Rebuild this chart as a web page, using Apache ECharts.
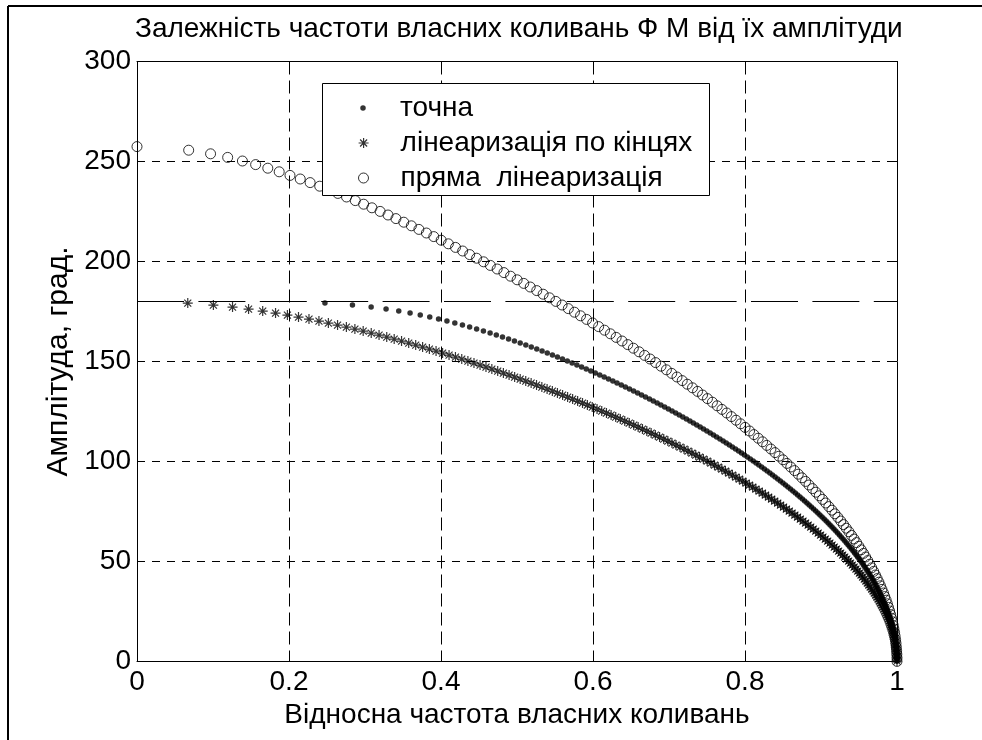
<!DOCTYPE html>
<html>
<head>
<meta charset="utf-8">
<script src="https://cdn.jsdelivr.net/npm/echarts@6/dist/echarts.min.js"></script>
<style>
  html, body { margin: 0; padding: 0; background: #fff; }
  #chart { width: 982px; height: 740px; }
</style>
</head>
<body>
<div id="chart"></div>
<script>
// Amplitude (degrees) shared by the exact solution and the end-point linearization
const ampExact = [
  179.2,178.2,177.2,176.2,175.2,174.2,173.2,172.2,171.2,170.2,
  169.2,168.2,167.2,166.2,165.2,164.2,163.2,162.2,161.2,160.2,
  159.2,158.2,157.2,156.2,155.2,154.2,153.2,152.2,151.2,150.2,
  149.2,148.2,147.2,146.2,145.2,144.2,143.2,142.2,141.2,140.2,
  139.2,138.2,137.2,136.2,135.2,134.2,133.2,132.2,131.2,130.2,
  129.2,128.2,127.2,126.2,125.2,124.2,123.2,122.2,121.2,120.2,
  119.2,118.2,117.2,116.2,115.2,114.2,113.2,112.2,111.2,110.2,
  109.2,108.2,107.2,106.2,105.2,104.2,103.2,102.2,101.2,100.2,
  99.2,98.2,97.2,96.2,95.2,94.2,93.2,92.2,91.2,90.2,
  89.2,88.2,87.2,86.2,85.2,84.2,83.2,82.2,81.2,80.2,
  79.2,78.2,77.2,76.2,75.2,74.2,73.2,72.2,71.2,70.2,
  69.2,68.2,67.2,66.2,65.2,64.2,63.2,62.2,61.2,60.2,
  59.2,58.2,57.2,56.2,55.2,54.2,53.2,52.2,51.2,50.2,
  49.2,48.2,47.2,46.2,45.2,44.2,43.2,42.2,41.2,40.2,
  39.2,38.2,37.2,36.2,35.2,34.2,33.2,32.2,31.2,30.2,
  29.2,28.2,27.2,26.2,25.2,24.2,23.2,22.2,21.2,20.2,
  19.2,18.2,17.2,16.2,15.2,14.2,13.2,12.2,11.2,10.2,
  9.2,8.2,7.2,6.2,5.2,4.2,3.2,2.2,1.2,0.2
];

// Relative frequency, exact solution ("точна")
const freqExact = [
  .2473,.2835,.3081,.3277,.3444,.3593,.3727,.3852,.3968,.4078,
  .4182,.4282,.4377,.4469,.4558,.4646,.4728,.4809,.4889,.4966,
  .5042,.5116,.5188,.5260,.5330,.5398,.5466,.5532,.5598,.5662,
  .5725,.5788,.5850,.5911,.5971,.6030,.6089,.6147,.6204,.6261,
  .6316,.6372,.6426,.6480,.6534,.6587,.6639,.6691,.6743,.6793,
  .6844,.6893,.6943,.6992,.7040,.7088,.7135,.7182,.7229,.7275,
  .7320,.7365,.7410,.7454,.7498,.7542,.7585,.7627,.7670,.7712,
  .7753,.7794,.7834,.7875,.7915,.7954,.7993,.8031,.8070,.8108,
  .8145,.8182,.8219,.8255,.8291,.8327,.8362,.8396,.8431,.8465,
  .8499,.8532,.8565,.8598,.8630,.8662,.8693,.8724,.8755,.8785,
  .8815,.8844,.8873,.8902,.8931,.8959,.8986,.9014,.9041,.9068,
  .9094,.9119,.9145,.9170,.9195,.9219,.9243,.9266,.9290,.9313,
  .9335,.9357,.9379,.9401,.9422,.9442,.9462,.9482,.9502,.9522,
  .9540,.9558,.9576,.9594,.9612,.9628,.9645,.9661,.9677,.9693,
  .9707,.9722,.9736,.9750,.9764,.9777,.9789,.9802,.9814,.9826,
  .9837,.9848,.9858,.9869,.9879,.9888,.9897,.9905,.9914,.9922,
  .9929,.9936,.9943,.9949,.9956,.9961,.9966,.9970,.9975,.9980,
  .9984,.9987,.9990,.9993,.9995,.9997,.9998,.9999,1,1
];

// Relative frequency, linearization through the end points ("лінеаризація по кінцях")
const freqEnds = [
  .0668,.1005,.1257,.1468,.1654,.1823,.1979,.2125,.2263,.2394,
  .2518,.2639,.2755,.2867,.2976,.3082,.3185,.3286,.3384,.3481,
  .3575,.3667,.3758,.3847,.3935,.4021,.4106,.4190,.4273,.4354,
  .4434,.4514,.4592,.4669,.4746,.4821,.4896,.4969,.5042,.5115,
  .5186,.5257,.5327,.5396,.5465,.5532,.5600,.5666,.5732,.5798,
  .5862,.5926,.5990,.6053,.6115,.6177,.6238,.6299,.6359,.6418,
  .6477,.6536,.6594,.6651,.6708,.6765,.6820,.6876,.6931,.6985,
  .7039,.7092,.7145,.7198,.7250,.7301,.7352,.7402,.7452,.7502,
  .7551,.7599,.7647,.7695,.7742,.7788,.7834,.7880,.7925,.7970,
  .8014,.8057,.8101,.8143,.8186,.8228,.8269,.8310,.8350,.8390,
  .8430,.8468,.8507,.8545,.8583,.8619,.8656,.8692,.8728,.8763,
  .8797,.8831,.8865,.8898,.8931,.8963,.8995,.9026,.9057,.9088,
  .9117,.9146,.9175,.9204,.9232,.9259,.9285,.9312,.9338,.9364,
  .9388,.9412,.9436,.9460,.9484,.9506,.9527,.9548,.9570,.9591,
  .9611,.9629,.9648,.9667,.9686,.9703,.9720,.9736,.9752,.9769,
  .9783,.9797,.9811,.9825,.9839,.9851,.9862,.9874,.9885,.9896,
  .9906,.9915,.9923,.9932,.9941,.9948,.9954,.9961,.9967,.9974,
  .9978,.9981,.9985,.9989,.9993,.9996,.9997,.9999,1,1
];

// Amplitude (degrees) for the direct linearization ("пряма лінеаризація")
const ampDirect = [
  257.45,255.65,253.85,252.05,250.25,248.45,246.65,244.85,243.05,241.25,
  239.45,237.65,235.85,234.05,232.25,230.45,228.65,226.85,225.05,223.25,
  221.45,219.65,217.85,216.05,214.25,212.45,210.65,208.85,207.05,205.25,
  203.45,201.65,199.85,198.05,196.25,194.45,192.65,190.85,189.05,187.25,
  185.45,183.65,181.85,180.05,178.25,176.45,174.65,172.85,171.05,169.25,
  167.45,165.65,163.85,162.05,160.25,158.45,156.65,154.85,153.05,151.25,
  149.45,147.65,145.85,144.05,142.25,140.45,138.65,136.85,135.05,133.25,
  131.45,129.65,127.85,126.05,124.25,122.45,120.65,118.85,117.05,115.25,
  113.45,111.65,109.85,108.05,106.25,104.45,102.65,100.85,99.05,97.25,
  95.45,93.65,91.85,90.05,88.25,86.45,84.65,82.85,81.05,79.25,
  77.45,75.65,73.85,72.05,70.25,68.45,66.65,64.85,63.05,61.25,
  59.45,57.65,55.85,54.05,52.25,50.45,48.65,46.85,45.05,43.25,
  41.45,39.65,37.85,36.05,34.25,32.45,30.65,28.85,27.05,25.25,
  23.45,21.65,19.85,18.05,16.25,14.45,12.65,10.85,9.05,7.25,
  5.45,3.65,1.85,0.05
];

// Relative frequency for the direct linearization
const freqDirect = [
  0,.0680,.0968,.1193,.1387,.1561,.1721,.1871,.2013,.2148,
  .2278,.2404,.2525,.2643,.2757,.2872,.2982,.3091,.3199,.3303,
  .3407,.3510,.3610,.3709,.3808,.3905,.4002,.4097,.4191,.4285,
  .4377,.4468,.4560,.4649,.4739,.4828,.4915,.5002,.5089,.5174,
  .5260,.5344,.5427,.5511,.5593,.5675,.5756,.5836,.5916,.5995,
  .6074,.6152,.6229,.6305,.6382,.6457,.6531,.6606,.6679,.6751,
  .6824,.6895,.6966,.7036,.7105,.7174,.7241,.7309,.7376,.7441,
  .7506,.7571,.7634,.7697,.7760,.7821,.7882,.7942,.8001,.8060,
  .8117,.8174,.8231,.8286,.8341,.8395,.8447,.8500,.8551,.8602,
  .8652,.8701,.8749,.8797,.8842,.8888,.8933,.8977,.9020,.9062,
  .9103,.9144,.9183,.9222,.9260,.9296,.9332,.9368,.9401,.9435,
  .9467,.9498,.9529,.9559,.9587,.9615,.9642,.9667,.9693,.9716,
  .9739,.9762,.9782,.9802,.9822,.9839,.9857,.9873,.9888,.9903,
  .9916,.9928,.9940,.9950,.9959,.9968,.9975,.9982,.9987,.9991,
  .9995,.9998,1,1
];

// Separatrix amplitude of 180 degrees, drawn across the whole frequency range
const limitFreq = [0, 1];
const limitAmp = [180, 180];

const seriesNames = ['точна', 'лінеаризація по кінцях', 'пряма  лінеаризація'];
const titleText = 'Залежність частоти власних коливань Ф М від їх амплітуди';
const xName = 'Відносна частота власних коливань';
const yName = 'Амплітуда, град.';

const FONT = '"Liberation Sans", Arial, Helvetica, sans-serif';
const BLACK = '#000';
const FS = 28;

// MATLAB-style '*' marker: a plus combined with a cross
const STAR = 'path://M0,5L10,5M5,0L5,10M1.5,1.5L8.5,8.5M1.5,8.5L8.5,1.5';

function zip(xs, ys) {
  return xs.map((x, i) => [x, ys[i]]);
}

const chart = echarts.init(document.getElementById('chart'), null, { renderer: 'canvas' });

const baseAxis = {
  type: 'value',
  axisLine: { show: true, onZero: false, lineStyle: { color: BLACK, width: 1 } },
  axisTick: { show: true, inside: true, length: 7, lineStyle: { color: BLACK, width: 1 } },
  axisLabel: { color: BLACK, fontSize: FS, fontFamily: FONT },
  splitLine: { show: true, lineStyle: { color: BLACK, width: 1, type: [8, 7] } }
};

// one legend block per entry so that each marker keeps its own size
const LEGEND_MARK_X = 363;
const LEGEND_TEXT_X = 400;
function legendBlock(name, centerY, size, itemStyle) {
  return {
    data: [{ name: name, itemStyle: itemStyle }],
    orient: 'vertical',
    left: LEGEND_MARK_X - size / 2,
    top: centerY - FS / 2,
    padding: 0,
    itemWidth: size,
    itemHeight: size,
    selectedMode: false,
    z: 12,
    textStyle: {
      color: BLACK, fontSize: FS, lineHeight: FS, fontFamily: FONT,
      padding: [0, 0, 0, LEGEND_TEXT_X - (LEGEND_MARK_X + size / 2 + 5)]
    }
  };
}

const option = {
  animation: false,
  backgroundColor: '#fff',
  title: {
    text: titleText,
    left: 135,
    top: 15,
    padding: 0,
    textStyle: { color: BLACK, fontSize: FS, fontWeight: 'normal', fontFamily: FONT }
  },
  grid: { left: 137, right: 85, top: 61.5, bottom: 78.5, containLabel: false },
  xAxis: [
    Object.assign({}, baseAxis, {
      min: 0, max: 1, interval: 0.2,
      position: 'bottom',
      axisLabel: Object.assign({}, baseAxis.axisLabel, { margin: 7 }),
      splitLine: { show: true, lineStyle: { color: BLACK, width: 1, type: [13, 6] } },
      name: xName,
      nameLocation: 'middle',
      nameGap: 36,
      nameTextStyle: { color: BLACK, fontSize: FS, fontFamily: FONT }
    }),
    Object.assign({}, baseAxis, {
      min: 0, max: 1, interval: 0.2,
      position: 'top',
      axisLabel: { show: false },
      splitLine: { show: false }
    })
  ],
  yAxis: [
    Object.assign({}, baseAxis, {
      min: 0, max: 300, interval: 50,
      position: 'left',
      axisLabel: Object.assign({}, baseAxis.axisLabel, { margin: 6 }),
      name: yName,
      nameLocation: 'middle',
      nameGap: 59,
      nameTextStyle: { color: BLACK, fontSize: 30, fontFamily: FONT }
    }),
    Object.assign({}, baseAxis, {
      min: 0, max: 300, interval: 50,
      position: 'right',
      axisLabel: { show: false },
      splitLine: { show: false }
    })
  ],
  legend: [
    legendBlock(seriesNames[0], 108, 5.5, { color: BLACK }),
    legendBlock(seriesNames[1], 143, 10, { color: 'rgba(0,0,0,0)', borderColor: BLACK, borderWidth: 1.2 }),
    legendBlock(seriesNames[2], 178, 10, { color: 'rgba(0,0,0,0)', borderColor: BLACK, borderWidth: 1 })
  ],
  graphic: {
    elements: [
      // outer frame of the figure
      { type: 'line', z: 0, shape: { x1: 8, y1: 6, x2: 982, y2: 6 }, style: { stroke: BLACK, lineWidth: 2 } },
      { type: 'line', z: 0, shape: { x1: 8, y1: 6, x2: 8, y2: 740 }, style: { stroke: BLACK, lineWidth: 2 } },
      // legend box
      { type: 'rect', z: 10, shape: { x: 322.5, y: 83.5, width: 387, height: 112 },
        style: { fill: '#fff', stroke: BLACK, lineWidth: 1 } }
    ]
  },
  series: [
    {
      name: seriesNames[0],
      type: 'scatter',
      data: zip(freqExact, ampExact),
      symbol: 'circle',
      symbolSize: 5.5,
      clip: false,
      itemStyle: { color: BLACK }
    },
    {
      name: seriesNames[1],
      type: 'scatter',
      data: zip(freqEnds, ampExact),
      symbol: STAR,
      symbolSize: 10,
      clip: false,
      itemStyle: { color: 'rgba(0,0,0,0)', borderColor: BLACK, borderWidth: 1.2 }
    },
    {
      name: seriesNames[2],
      type: 'scatter',
      data: zip(freqDirect, ampDirect),
      symbol: 'circle',
      symbolSize: 10,
      clip: false,
      itemStyle: { color: 'rgba(0,0,0,0)', borderColor: BLACK, borderWidth: 1 }
    },
    {
      name: 'limit',
      type: 'line',
      data: zip(limitFreq, limitAmp),
      symbol: 'none',
      silent: true,
      lineStyle: { color: BLACK, width: 1, type: [47, 14.4] }
    }
  ]
};

chart.setOption(option);
</script>
</body>
</html>
